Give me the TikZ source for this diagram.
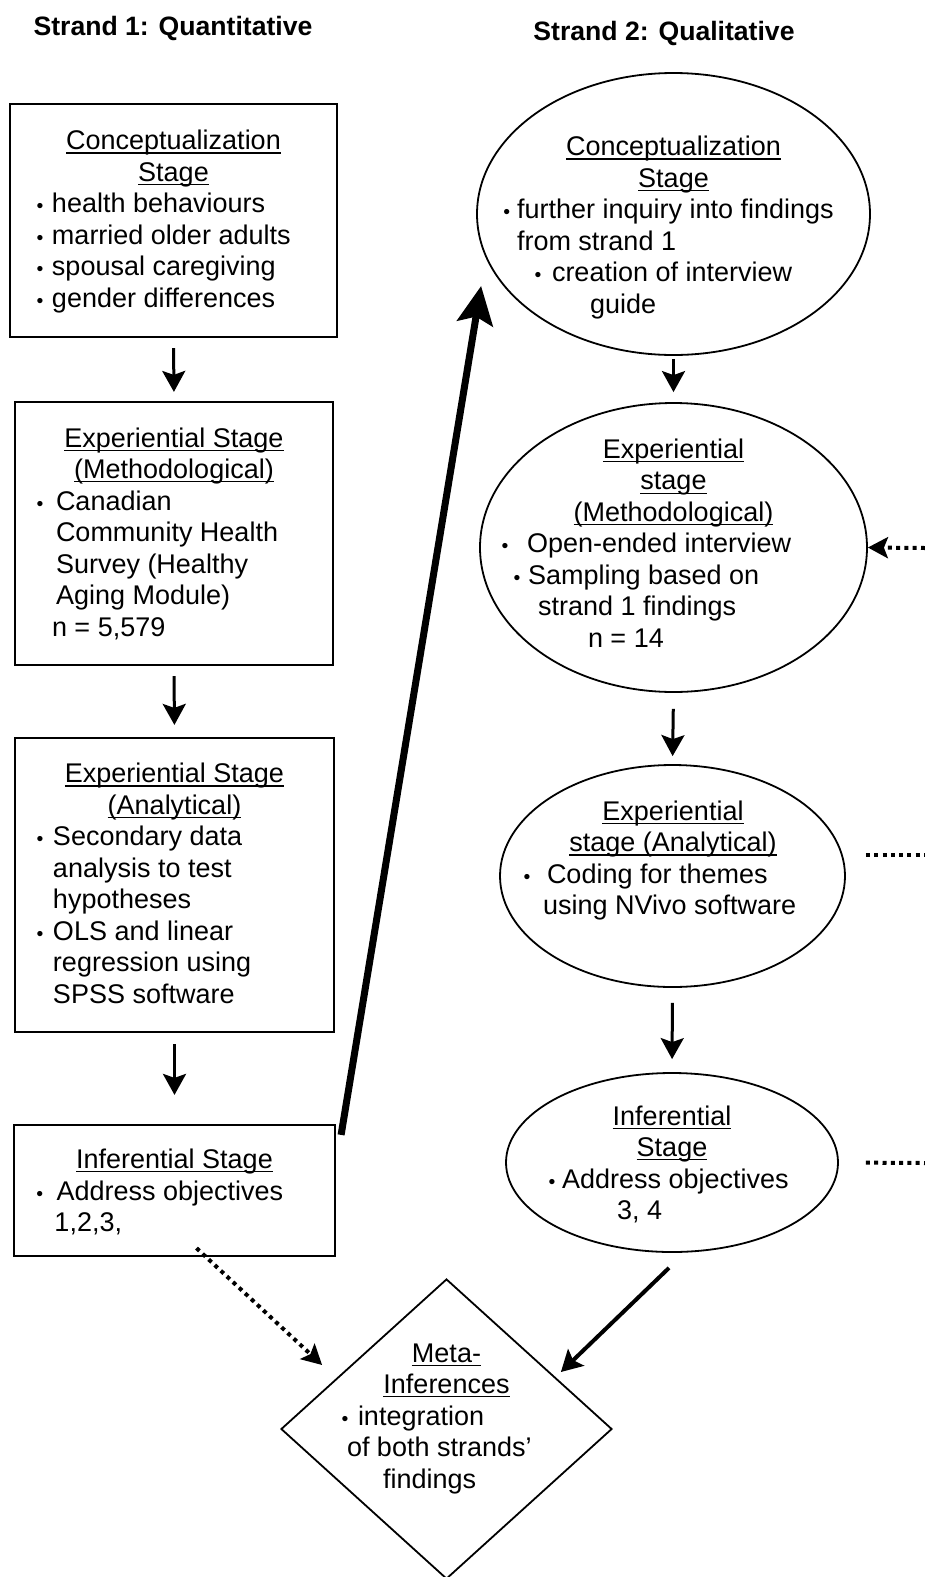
\documentclass[tikz,border=0pt]{standalone}
\usepackage{fontspec}
\setmainfont{Liberation Sans}
\usetikzlibrary{arrows.meta,calc,shapes.geometric}

% underlined stage heading, thin rule just under the baseline
\newsavebox{\stageulbox}
\newcommand{\stageuline}[1]{\sbox{\stageulbox}{#1}\rlap{\rule[-3.9pt]{\wd\stageulbox}{1.3pt}}\usebox{\stageulbox}}

% one line of a stage text, all lines 380pt wide and centred on the node
\newcommand{\stagedot}{\scalebox{0.72}{•}}
\newcommand{\stagehead}[1]{\makebox[380pt][c]{\stageuline{#1}}}
\newcommand{\stageline}[2]{\makebox[380pt][l]{\hspace*{190pt}\hspace*{#1pt}#2}}
\newcommand{\stagebullet}[3]{\makebox[380pt][l]{\hspace*{190pt}\hspace*{#1pt}\llap{\stagedot\hspace*{1.3pt}\hspace*{#2pt}}#3}}

\begin{document}
\begin{tikzpicture}[
  x=1pt, y=-1pt,
  stagebox/.style={rectangle, draw, line width=2.2pt, inner sep=0pt},
  stageellipse/.style={ellipse, draw, line width=1.8pt, inner sep=0pt},
  metadiamond/.style={diamond, draw, line width=1.8pt, inner sep=0pt},
  stagetext/.style={inner sep=0pt, align=center, font=\fontsize{27}{31.5}\selectfont},
  strandtitle/.style={inner sep=0pt, font=\fontsize{26.6}{31}\selectfont\bfseries},
  flow/.style={draw, line width=3pt, -{Stealth[length=21pt,width=23pt,inset=4pt]}},
  bigflow/.style={draw, line width=7pt, -{Stealth[length=38pt,width=36pt,inset=7pt]}},
  dotflow/.style={draw, line width=4pt, dash pattern=on 4pt off 4.3pt,
                  -{Stealth[length=20pt,width=21pt,inset=4pt]}},
  dotline/.style={draw, line width=4pt, dash pattern=on 4pt off 4.3pt}
]
\useasboundingbox (0,0) rectangle (925,1577);

% =======================================================
%                     STRAND TITLES
% =======================================================
\node[strandtitle] (quanttitle) at (173,28) {Strand 1: Quantitative};
\node[strandtitle] (qualtitle) at (664,33) {Strand 2: Qualitative};

% =======================================================
%                STRAND 1 (boxes, left)
% =======================================================
\node[stagebox, minimum width=327pt, minimum height=233pt] (qn1) at (173.5,220.5) {};
\node[stagetext] (qn1-text) at (173.5,221.5) {%
\stagehead{Conceptualization}\\
\stagehead{Stage}\\
\stagebullet{-121.5}{7.3}{health behaviours}\\
\stagebullet{-121.5}{7.3}{married older adults}\\
\stagebullet{-121.5}{7.3}{spousal caregiving}\\
\stagebullet{-121.5}{7.3}{gender differences}};

\node[stagebox, minimum width=318pt, minimum height=263pt] (qn2) at (174,533.5) {};
\node[stagetext] (qn2-text) at (174,533.5) {%
\stagehead{Experiential Stage}\\
\stagehead{(Methodological)}\\
\stagebullet{-118}{11.3}{Canadian}\\
\stageline{-118}{Community Health}\\
\stageline{-118}{Survey (Healthy}\\
\stageline{-118}{Aging Module)}\\
\stageline{-122}{n = 5,579}};

\node[stagebox, minimum width=319pt, minimum height=294pt] (qn3) at (174.5,885) {};
\node[stagetext] (qn3-text) at (174.5,883.2) {%
\stagehead{Experiential Stage}\\
\stagehead{(Analytical)}\\
\stagebullet{-121.5}{8.3}{Secondary data}\\
\stageline{-121.5}{analysis to test}\\
\stageline{-121.5}{hypotheses}\\
\stagebullet{-121.5}{8.3}{OLS and linear}\\
\stageline{-121.5}{regression using}\\
\stageline{-121.5}{SPSS software}};

\node[stagebox, minimum width=321pt, minimum height=131pt] (qn4) at (174.5,1190.5) {};
\node[stagetext] (qn4-text) at (174.5,1192) {%
\stagehead{Inferential Stage}\\
\stagebullet{-118}{12}{Address objectives}\\
\stageline{-120}{1,2,3,}};

% =======================================================
%                STRAND 2 (ellipses, right)
% =======================================================
\node[stageellipse, minimum width=393pt, minimum height=282pt] (ql1) at (673.5,214) {};
\node[stagetext] (ql1-text) at (673.5,227.5) {%
\stagehead{Conceptualization}\\
\stagehead{Stage}\\
\stagebullet{-156.5}{5.6}{further inquiry into findings}\\
\stageline{-156.5}{from strand 1}\\
\stagebullet{-121.5}{9.3}{creation of interview}\\
\stageline{-83.5}{guide}};

\node[stageellipse, minimum width=387pt, minimum height=289pt] (ql2) at (673.5,547.5) {};
\node[stagetext] (ql2-text) at (673.5,543.2) {%
\stagehead{Experiential}\\
\stagehead{stage}\\
\stagehead{(Methodological)}\\
\stagebullet{-146.5}{17.3}{Open-ended interview}\\
\stagebullet{-145.5}{6.3}{Sampling based on}\\
\stageline{-135.5}{strand 1 findings}\\
\stageline{-85.5}{n = 14}};

\node[stageellipse, minimum width=345pt, minimum height=222pt] (ql3) at (672.5,876) {};
\node[stagetext] (ql3-text) at (673,860.5) {%
\stagehead{Experiential}\\
\stagehead{stage (Analytical)}\\
\stagebullet{-126}{15.3}{Coding for themes}\\
\stageline{-130}{using NVivo software}};

\node[stageellipse, minimum width=332pt, minimum height=179pt] (ql4) at (672,1162.5) {};
\node[stagetext] (ql4-text) at (672,1164.2) {%
\stagehead{Inferential}\\
\stagehead{Stage}\\
\stagebullet{-110}{5.3}{Address objectives}\\
\stageline{-55}{3, 4}};

% =======================================================
%                     META-INFERENCES
% =======================================================
\node[metadiamond, minimum width=331pt, minimum height=300pt] (meta) at (446.5,1429) {};
\node[stagetext] (meta-text) at (446.5,1418.5) {%
\stagehead{Meta-}\\
\stagehead{Inferences}\\
\stagebullet{-88.5}{8.3}{integration}\\
\stageline{-99.5}{of both strands’}\\
\stageline{-63.5}{findings}};

% =======================================================
%                     CONNECTIONS
% =======================================================

% strand 1 chain
\draw[flow, shorten <=10pt, shorten >=9pt] (qn1.south) -- (qn2.north);
\draw[flow, shorten <=10pt, shorten >=12pt] (qn2.south) -- (qn3.north);
\draw[flow, shorten <=11pt, shorten >=29pt] (qn3.south) -- (qn4.north);

% strand 2 chain
\draw[flow, shorten <=3pt, shorten >=10pt] (ql1.south) -- (ql2.north);
\draw[flow, shorten <=16pt, shorten >=8pt] (ql2.south) -- (ql3.north);
\draw[flow, shorten <=15pt, shorten >=13pt] (ql3.south) -- (ql4.north);

% strand 1 findings feed strand 2
\draw[bigflow] ($(qn4.north east)+(5,11)$) -- ($(ql1.west)+(5,72)$);

% both strands into the meta-inferences
\draw[dotflow] ($(qn4.south)+(22,-9)$) -- ($(meta.west)+(42,-64)$);
\draw[flow, line width=4pt] ($(ql4.south)+(-3,15)$) -- ($(meta.east)+(-52,-57)$);

% dotted links running off the right edge
\coordinate (cut1) at (925,548);
\coordinate (cut2) at (925,855);
\coordinate (cut3) at (925,1163);
\draw[dotflow] (cut1) -- (ql2.east);
\draw[dotline] ($(ql3.east)+(20,-21)$) -- (cut2);
\draw[dotline, shorten <=27pt] (ql4.east) -- (cut3);

\end{tikzpicture}
\end{document}
